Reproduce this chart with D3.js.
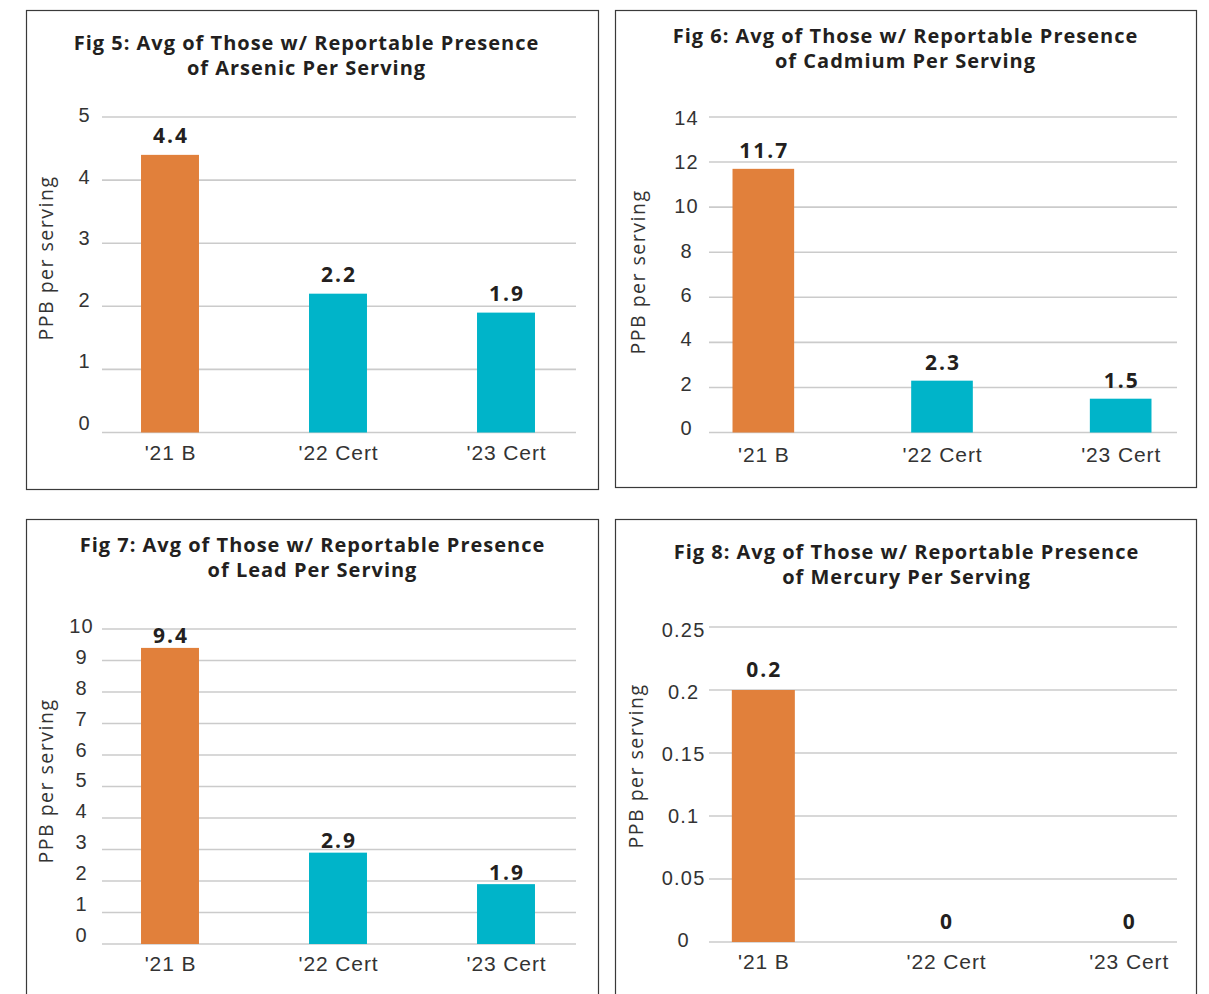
<!DOCTYPE html>
<html>
<head>
<meta charset="utf-8">
<script src="https://cdn.jsdelivr.net/npm/d3@7"></script>
<style>
  html, body { margin: 0; padding: 0; background: #ffffff; }
  svg { display: block; font-family: "Open Sans", Inter, Lato, sans-serif; }
  .title { font-weight: 700; font-size: 20px; letter-spacing: 1px; fill: #231f20; }
  .tick-label { font-weight: 400; font-size: 20px; letter-spacing: 1.2px; fill: #333333; }
  .cat-label { font-weight: 400; font-size: 21px; letter-spacing: 0.9px; fill: #333333; }
  .axis-title { font-weight: 400; font-size: 19.5px; letter-spacing: 1.5px; fill: #333333; }
  .value-label { font-weight: 700; font-size: 21px; letter-spacing: 2px; fill: #231f20; }
</style>
</head>
<body>
<svg id="chart" width="1209" height="994"></svg>
<script>
// Categories shared by all four figures
const categories = ["'21 B", "'22 Cert", "'23 Cert"];

// Average ppb per serving, one array per metal
const arsenicValues = [4.4, 2.2, 1.9];
const cadmiumValues = [11.7, 2.3, 1.5];
const leadValues = [9.4, 2.9, 1.9];
const mercuryValues = [0.2, 0, 0];

// Y-axis tick values for each figure
const arsenicTicks = [0, 1, 2, 3, 4, 5];
const cadmiumTicks = [0, 2, 4, 6, 8, 10, 12, 14];
const leadTicks = [0, 1, 2, 3, 4, 5, 6, 7, 8, 9, 10];
const mercuryTicks = [0, 0.05, 0.1, 0.15, 0.2, 0.25];

// Figure titles (two lines each)
const arsenicTitle = ["Fig 5: Avg of Those w/ Reportable Presence", "of Arsenic Per Serving"];
const cadmiumTitle = ["Fig 6: Avg of Those w/ Reportable Presence", "of Cadmium Per Serving"];
const leadTitle = ["Fig 7: Avg of Those w/ Reportable Presence", "of Lead Per Serving"];
const mercuryTitle = ["Fig 8: Avg of Those w/ Reportable Presence", "of Mercury Per Serving"];

const yAxisTitle = "PPB per serving";

const ORANGE = "#e1803b";
const TEAL = "#00b4c9";
const GRID = "#cbcbcb";

const svg = d3.select("#chart");

function drawPanel(cfg) {
  const g = svg.append("g");

  // panel frame
  g.append("rect")
    .attr("x", cfg.frame[0]).attr("y", cfg.frame[1])
    .attr("width", cfg.frame[2]).attr("height", cfg.frame[3])
    .attr("fill", "none").attr("stroke", "#3a3a3a").attr("stroke-width", 1.2);

  // title (letter-spacing trails the last glyph, so nudge right by half of it)
  g.append("text").attr("class", "title")
    .attr("text-anchor", "middle")
    .selectAll("tspan").data(cfg.title).join("tspan")
    .attr("x", cfg.titleX + 0.5)
    .attr("y", (d, i) => cfg.titleY + i * 25)
    .text(d => d);

  const y = d3.scaleLinear().domain(cfg.domain).range(cfg.yRange);
  const yLab = d3.scaleLinear().domain(cfg.domain).range(cfg.labelRange);
  const x = d3.scaleBand().domain(categories).range(cfg.xRange)
    .paddingInner(0.655).paddingOuter(0.3275);

  // horizontal gridlines
  g.append("g").selectAll("line").data(cfg.ticks).join("line")
    .attr("x1", cfg.gridX[0]).attr("x2", cfg.gridX[1])
    .attr("y1", d => y(d)).attr("y2", d => y(d))
    .attr("stroke", GRID).attr("stroke-width", 1.6);

  // y tick labels via axis generator
  const yAxis = d3.axisLeft(yLab).tickValues(cfg.ticks).tickSize(0).tickPadding(0)
    .tickFormat(d => String(d));
  const ya = g.append("g").attr("transform", `translate(${cfg.tickX},0)`).call(yAxis);
  ya.select(".domain").remove();
  ya.selectAll("text").attr("class", "tick-label").attr("text-anchor", "middle")
    .attr("x", 0.6).attr("fill", null);

  // bars
  g.append("g").selectAll("rect").data(cfg.values).join("rect")
    .attr("x", (d, i) => x(categories[i]))
    .attr("width", x.bandwidth())
    .attr("y", d => y(d))
    .attr("height", d => y(0) - y(d))
    .attr("fill", (d, i) => i === 0 ? ORANGE : TEAL);

  // value labels
  g.append("g").selectAll("text").data(cfg.values).join("text")
    .attr("class", "value-label").attr("text-anchor", "middle")
    .attr("x", (d, i) => x(categories[i]) + x.bandwidth() / 2 + 1)
    .attr("y", d => y(d) - cfg.labelGap)
    .attr("dy", "0.35em")
    .text(d => String(d));

  // category axis labels
  const xAxis = d3.axisBottom(x).tickSize(0).tickPadding(0);
  const xa = g.append("g").attr("transform", `translate(0,${cfg.catY})`).call(xAxis);
  xa.select(".domain").remove();
  xa.selectAll("text").attr("class", "cat-label").attr("fill", null)
    .attr("x", 0.5).attr("y", 0).attr("dy", "0.35em");

  // y axis title
  g.append("text").attr("class", "axis-title")
    .attr("text-anchor", "middle")
    .attr("transform", `translate(${cfg.axisTitleX},${cfg.axisTitleY}) rotate(-90)`)
    .attr("dy", "0.35em")
    .text(yAxisTitle);
}

drawPanel({
  frame: [26.5, 10.5, 572, 479], title: arsenicTitle, titleX: 306, titleY: 50,
  values: arsenicValues, ticks: arsenicTicks, domain: [0, 5],
  yRange: [432.5, 117], labelRange: [423, 115], tickX: 84,
  xRange: [86, 590], gridX: [102, 576], labelGap: 19, catY: 453,
  axisTitleX: 46, axisTitleY: 258
});

drawPanel({
  frame: [615.5, 10.5, 581, 477], title: cadmiumTitle, titleX: 905, titleY: 43,
  values: cadmiumValues, ticks: cadmiumTicks, domain: [0, 14],
  yRange: [432.5, 117], labelRange: [428, 118], tickX: 686,
  xRange: [674, 1210], gridX: [709, 1177], labelGap: 18, catY: 455,
  axisTitleX: 638, axisTitleY: 272
});

drawPanel({
  frame: [26.5, 519.5, 572, 500], title: leadTitle, titleX: 312, titleY: 552,
  values: leadValues, ticks: leadTicks, domain: [0, 10],
  yRange: [944, 629], labelRange: [935, 626], tickX: 81,
  xRange: [86, 590], gridX: [102, 576], labelGap: 12, catY: 964,
  axisTitleX: 46, axisTitleY: 781
});

drawPanel({
  frame: [615.5, 519.5, 581, 500], title: mercuryTitle, titleX: 906, titleY: 559,
  values: mercuryValues, ticks: mercuryTicks, domain: [0, 0.25],
  yRange: [942, 627], labelRange: [940, 630], tickX: 683,
  xRange: [672, 1220], gridX: [709, 1177], labelGap: 20, catY: 962,
  axisTitleX: 636, axisTitleY: 766
});
</script>
</body>
</html>
